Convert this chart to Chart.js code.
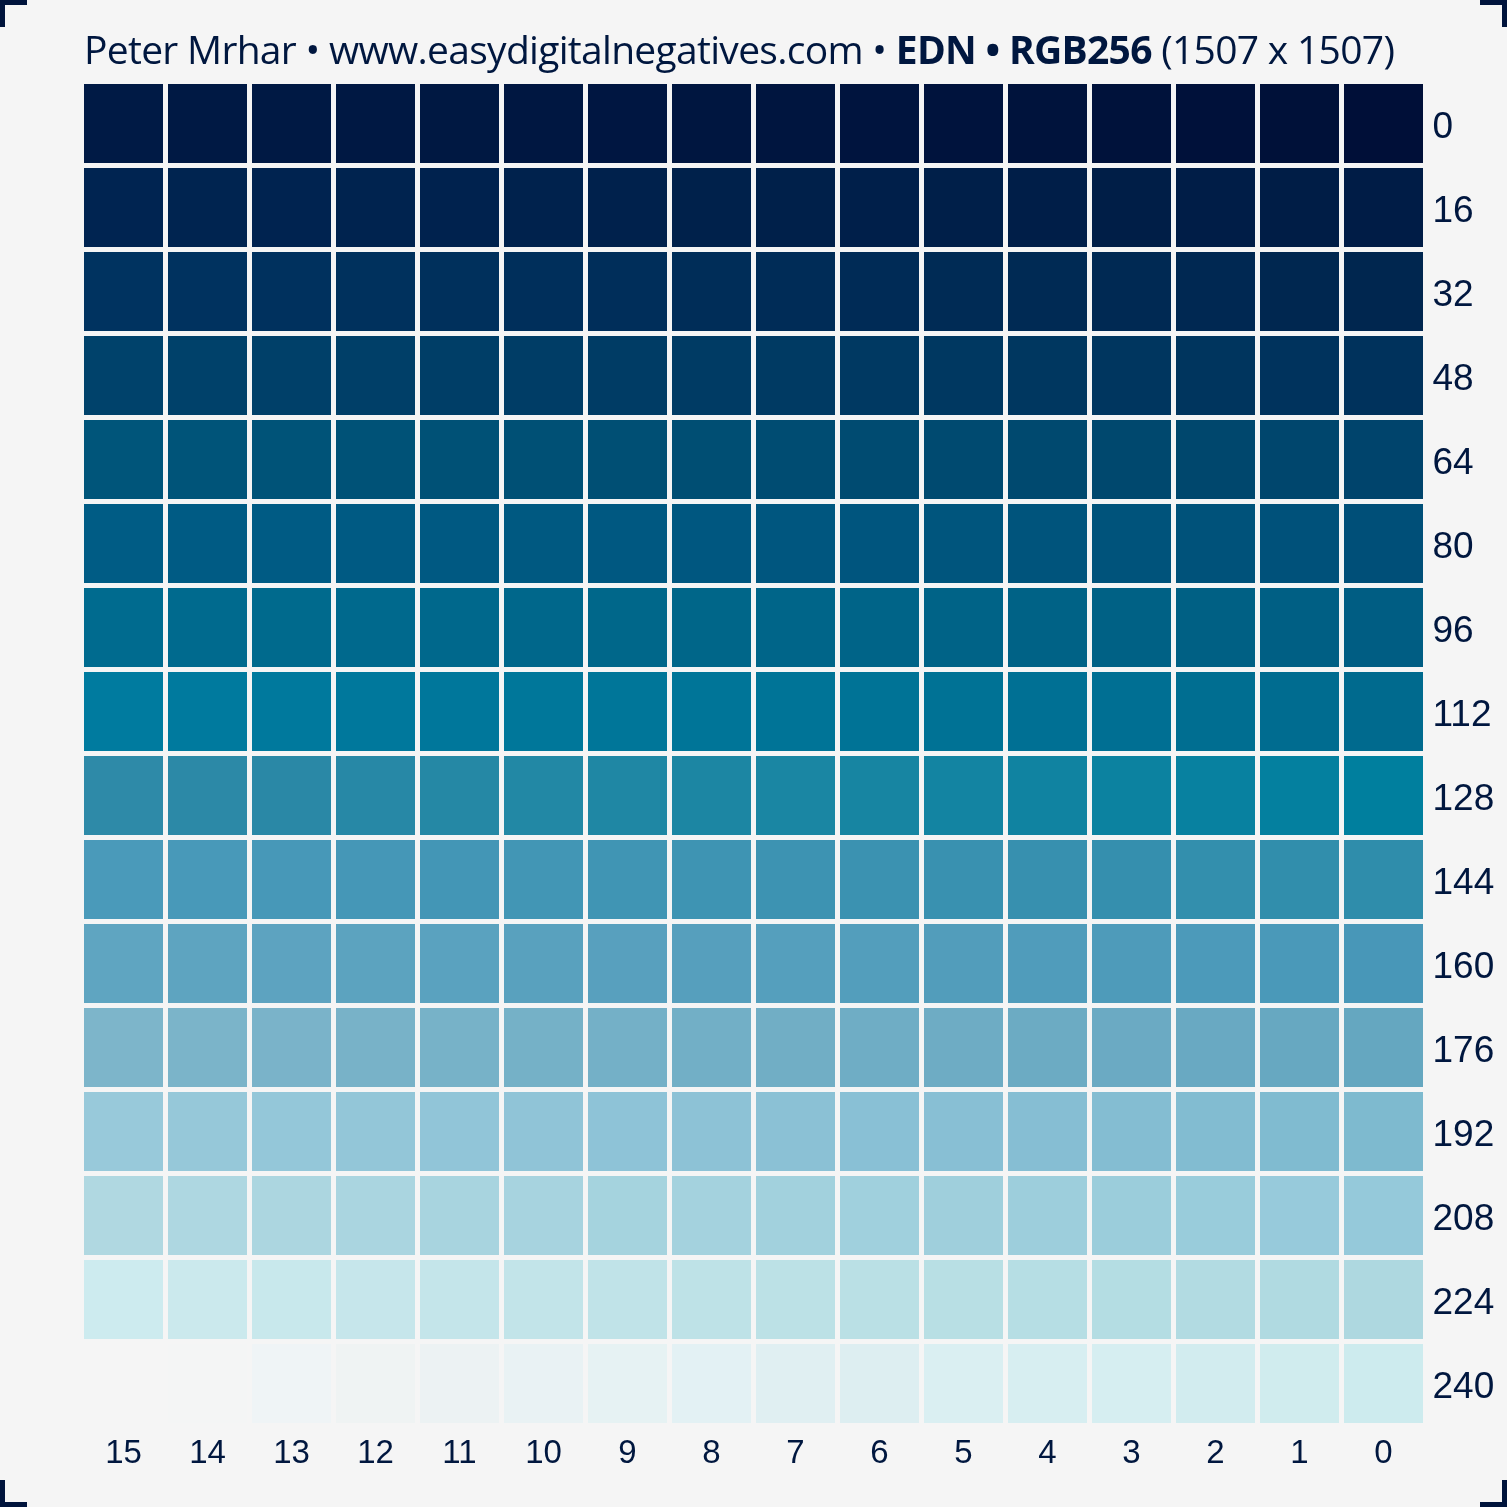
<!DOCTYPE html>
<html lang="en">
<head>
    <meta charset="UTF-8">
    <title>EDN RGB256</title>
    <script src="https://cdn.jsdelivr.net/npm/chart.js"></script>
    <style>
        body { margin: 0; background: #f5f5f5; }
        #wrap { position: relative; width: 1507px; height: 1507px; overflow: hidden; }
        #title { position: absolute; left: 84px; top: 24px; font-family: "Open Sans", sans-serif; font-size: 39px; letter-spacing: -0.7px; color: #00173f; white-space: nowrap; line-height: 50px; }
        #title b { font-weight: 700; }
        .corner { position: absolute; width: 22px; height: 22px; border-color: #00143c; border-style: solid; border-width: 0; }
        #tl { left: 0; top: 0; border-left-width: 5px; border-top-width: 5px; }
        #tr { right: 0; top: 0; border-right-width: 5px; border-top-width: 5px; }
        #bl { left: 0; bottom: 0; border-left-width: 5px; border-bottom-width: 5px; }
        #br { right: 0; bottom: 0; border-right-width: 5px; border-bottom-width: 5px; }
    </style>
</head>
<body>
<div id="wrap">
    <canvas id="chart" width="1507" height="1507"></canvas>
    <div id="title">Peter Mrhar • www.easydigitalnegatives.com • <b>EDN • RGB256</b> (1507 x 1507)</div>
    <div class="corner" id="tl"></div>
    <div class="corner" id="tr"></div>
    <div class="corner" id="bl"></div>
    <div class="corner" id="br"></div>
</div>

<script>
    // column labels, left to right
    const colLabels = ['15', '14', '13', '12', '11', '10', '9', '8', '7', '6', '5', '4', '3', '2', '1', '0'];
    // row labels, top to bottom
    const rowLabels = ['0', '16', '32', '48', '64', '80', '96', '112', '128', '144', '160', '176', '192', '208', '224', '240'];

    // swatch colours per row (columns 15 -> 0)
    const row0   = ['#001a45','#001944','#001944','#001843','#001842','#001741','#001641','#001640','#00153f','#00143e','#00133d','#00133c','#00123b','#00113a','#001139','#000f38'];
    const row16  = ['#002451','#002450','#002350','#00234f','#00224e','#00224d','#00214c','#00214b','#00204a','#001f4a','#001f49','#001e48','#001e47','#001d47','#001d46','#001c46'];
    const row32  = ['#003360','#00325f','#00315e','#00315d','#00305c','#002f5b','#002e5a','#002d58','#002c57','#002b56','#002b55','#002a54','#002953','#002852','#002750','#00264f'];
    const row48  = ['#00426b','#00416a','#004069','#003f68','#003e67','#003d66','#003c65','#003b64','#003a63','#003962','#003861','#003760','#00365f','#00355e','#00335d','#00325c'];
    const row64  = ['#00557a','#005479','#005378','#005277','#005176','#005075','#004f74','#004e73','#004c72','#004b71','#004a70','#00496f','#00486e','#00476d','#00466d','#00446c'];
    const row80  = ['#005c85','#005b84','#005b84','#005a83','#005982','#005981','#005881','#005780','#00567f','#00557e','#00557d','#00547c','#00537b','#00527a','#00517a','#004f78'];
    const row96  = ['#006b8f','#006a8e','#006a8d','#00698d','#00688c','#00678b','#00678a','#006689','#006589','#006488','#006387','#006286','#006185','#006084','#005f84','#005d83'];
    const row112 = ['#007b9f','#007a9e','#00799d','#00789c','#00779b','#00779a','#007699','#007598','#007497','#007396','#007295','#007094','#006f93','#006e91','#006c90','#006a8e'];
    const row128 = ['#2e8aa8','#2c89a7','#2a88a6','#2788a6','#2588a5','#2288a5','#1f87a4','#1c86a3','#1a86a3','#1785a2','#1384a2','#1083a1','#0c82a0','#0881a0','#04809f','#007f9e'];
    const row144 = ['#4a9aba','#4899b9','#4798b8','#4597b7','#4396b6','#4296b5','#4095b4','#3e94b3','#3d93b2','#3b92b1','#3991b0','#3790af','#358fae','#338fad','#318eac','#2f8dab'];
    const row160 = ['#5fa5c1','#5ea4c0','#5da3c0','#5ca3bf','#5aa2bf','#59a1be','#58a0be','#569fbd','#559fbd','#539ebc','#529dbb','#509cbb','#4e9bba','#4c9aba','#4a99b9','#4897b8'];
    const row176 = ['#7db5ca','#7bb4c9','#7ab3c9','#78b2c8','#77b2c8','#75b1c7','#74b0c7','#72afc6','#71aec5','#6fadc5','#6eacc4','#6cabc3','#6baac3','#69a9c2','#67a8c1','#65a7c0'];
    const row192 = ['#98c9da','#96c8d9','#94c7d9','#93c6d8','#91c5d8','#90c4d7','#8ec3d7','#8dc2d6','#8bc1d5','#89c0d5','#88bfd4','#86bed3','#84bdd2','#82bcd1','#80bbd0','#7ebacf'];
    const row208 = ['#b0d8e1','#aed7e1','#acd6e0','#aad5e0','#a8d4df','#a7d3df','#a5d3de','#a4d2de','#a2d1dd','#a0d0dd','#9fcfdc','#9dcedc','#9bcddb','#99ccdb','#97cadb','#95c9da'];
    const row224 = ['#cdebef','#cbe9ed','#c8e8ec','#c6e6eb','#c4e5ea','#c2e4e9','#c0e3e8','#bee2e7','#bce1e6','#bae0e5','#b8dfe4','#b6dee4','#b4dde3','#b2dbe2','#b0dae1','#aed8e0'];
    const row240 = ['#f5f5f5','#f4f5f5','#eff4f6','#eff3f3','#ecf2f3','#e9f2f4','#e6f2f3','#e3f1f4','#e0eff2','#ddeef1','#daeff2','#d7eef1','#d6eef1','#d2ecef','#d0ecee','#cdebee'];

    const rows = [row0, row16, row32, row48, row64, row80, row96, row112,
                  row128, row144, row160, row176, row192, row208, row224, row240];

    const BG = '#f5f5f5';
    const INK = '#00173f';

    // one stacked dataset per column, every cell one unit wide
    const datasets = colLabels.map((label, j) => ({
        label: label,
        data: rowLabels.map(() => 1),
        backgroundColor: rows.map(r => r[j]),
        borderColor: BG,
        borderWidth: { left: 2.5, right: 2.5, top: 0, bottom: 0 },
        borderSkipped: false,
        barPercentage: 79 / 84,
        categoryPercentage: 1
    }));

    new Chart(document.getElementById('chart'), {
        type: 'bar',
        data: { labels: rowLabels, datasets: datasets },
        options: {
            indexAxis: 'y',
            responsive: false,
            animation: false,
            layout: { padding: { left: 81.5, top: 81.5, right: 0, bottom: 0 } },
            plugins: { legend: { display: false }, tooltip: { enabled: false }, title: { display: false } },
            scales: {
                y: {
                    type: 'category',
                    position: 'right',
                    stacked: true,
                    grid: { display: false, drawTicks: false },
                    border: { display: false },
                    ticks: { color: INK, padding: 7, labelOffset: 4, font: { family: 'Liberation Sans, Arial, sans-serif', size: 37 } },
                    afterFit: s => { s.width = 81.5; }
                },
                x: {
                    type: 'linear',
                    min: 0,
                    max: 16,
                    stacked: true,
                    grid: { display: false, drawTicks: false },
                    border: { display: false },
                    afterBuildTicks: a => { a.ticks = colLabels.map((_, i) => ({ value: i + 0.5 })); },
                    ticks: {
                        color: INK,
                        padding: 9,
                        autoSkip: false,
                        maxRotation: 0,
                        font: { family: 'Liberation Sans, Arial, sans-serif', size: 33 },
                        callback: (v, i) => colLabels[i]
                    },
                    afterFit: s => { s.height = 81.5; }
                }
            }
        }
    });
</script>
</body>
</html>
